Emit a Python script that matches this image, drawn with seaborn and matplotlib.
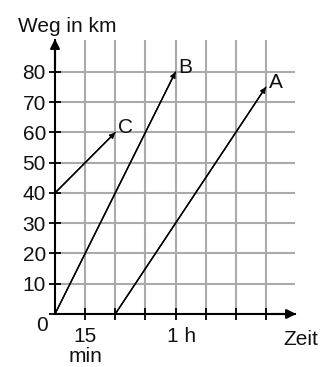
import matplotlib
matplotlib.use("Agg")
import matplotlib.pyplot as plt
import matplotlib.transforms as mtransforms
import seaborn as sns
import pandas as pd

sns.set_theme(style="white")
plt.rcParams['font.family'] = ['Liberation Sans', 'DejaVu Sans']

# Data (time in minutes, distance in km)
series = ["A", "B", "C"]
start_min = [30, 0, 0]
start_km = [0, 0, 40]
end_min = [105, 60, 30]
end_km = [75, 80, 60]

x_grid = [15, 30, 45, 60, 75, 90, 105]
x_tick_text = ["15\nmin", "", "", "1 h", "", "", ""]
y_ticks = [0, 10, 20, 30, 40, 50, 60, 70, 80]
y_tick_text = ["", "10", "20", "30", "40", "50", "60", "70", "80"]

rows = []
for s, x0, y0, x1, y1 in zip(series, start_min, start_km, end_min, end_km):
    rows.append({"line": s, "t": x0, "km": y0})
    rows.append({"line": s, "t": x1, "km": y1})
df = pd.DataFrame(rows)

FS = 15
TXT = "#111111"

fig = plt.figure(figsize=(3.22, 3.67), dpi=100)
ax = fig.add_axes([55 / 322, 53 / 367, 240 / 322, 273.8 / 367])

ax.set_xlim(0, 119.5)
ax.set_ylim(0, 90.5)

sns.lineplot(data=df, x="t", y="km", units="line", estimator=None,
             color="black", lw=1.0, ax=ax, zorder=5, sort=False)

for s, x0, y0, x1, y1 in zip(series, start_min, start_km, end_min, end_km):
    ax.annotate("", xy=(x1, y1), xytext=(x0, y0),
                arrowprops=dict(arrowstyle="-|>", color="black", lw=1.0,
                                mutation_scale=8, shrinkA=0, shrinkB=0),
                zorder=6)
    ax.annotate(s, xy=(x1, y1), xytext=(2.2, -0.5), textcoords="offset points",
                ha="left", va="baseline", fontsize=FS, color=TXT)

ax.set_xticks(x_grid)
ax.set_xticklabels(x_tick_text)
ax.set_yticks(y_ticks)
ax.set_yticklabels(y_tick_text)
ax.grid(True, color="#aaaaaa", lw=1.5)
ax.set_axisbelow(True)

ax.tick_params(axis="both", direction="inout", length=9, width=1.3,
               color="black", labelsize=FS, labelcolor=TXT,
               bottom=True, left=True)
ax.tick_params(axis="x", pad=5)
ax.tick_params(axis="y", pad=2)

for lab in ax.get_xticklabels():
    lab.set_linespacing(1.05)
    if lab.get_text() == "1 h":
        # shift the "1 h" label slightly right as in the original
        lab.set_transform(lab.get_transform() +
                          mtransforms.ScaledTranslation(6 / 100, 0, fig.dpi_scale_trans))

for side in ["top", "right"]:
    ax.spines[side].set_visible(False)
for side in ["left", "bottom"]:
    ax.spines[side].set_color("black")
    ax.spines[side].set_linewidth(1.5)
    ax.spines[side].set_zorder(7)

ax.set_xlabel("")
ax.set_ylabel("")

# axis arrowheads
ax.annotate("", xy=(1.005, 0), xytext=(0.9, 0), xycoords="axes fraction",
            arrowprops=dict(arrowstyle="-|>", color="black", lw=1.5,
                            mutation_scale=14, shrinkA=0, shrinkB=0),
            annotation_clip=False, zorder=8)
ax.annotate("", xy=(0, 1.005), xytext=(0, 0.9), xycoords="axes fraction",
            arrowprops=dict(arrowstyle="-|>", color="black", lw=1.5,
                            mutation_scale=14, shrinkA=0, shrinkB=0),
            annotation_clip=False, zorder=8)

fig.text(18 / 322, 1 - 31.5 / 367, "Weg in km", fontsize=FS, color=TXT,
         ha="left", va="baseline")
fig.text(283 / 322, 1 - 345 / 367, "Zeit", fontsize=FS, color=TXT,
         ha="left", va="baseline")
fig.text(48 / 322, 1 - 331 / 367, "0", fontsize=FS, color=TXT,
         ha="right", va="baseline")

fig.savefig("out.png", dpi=100)
